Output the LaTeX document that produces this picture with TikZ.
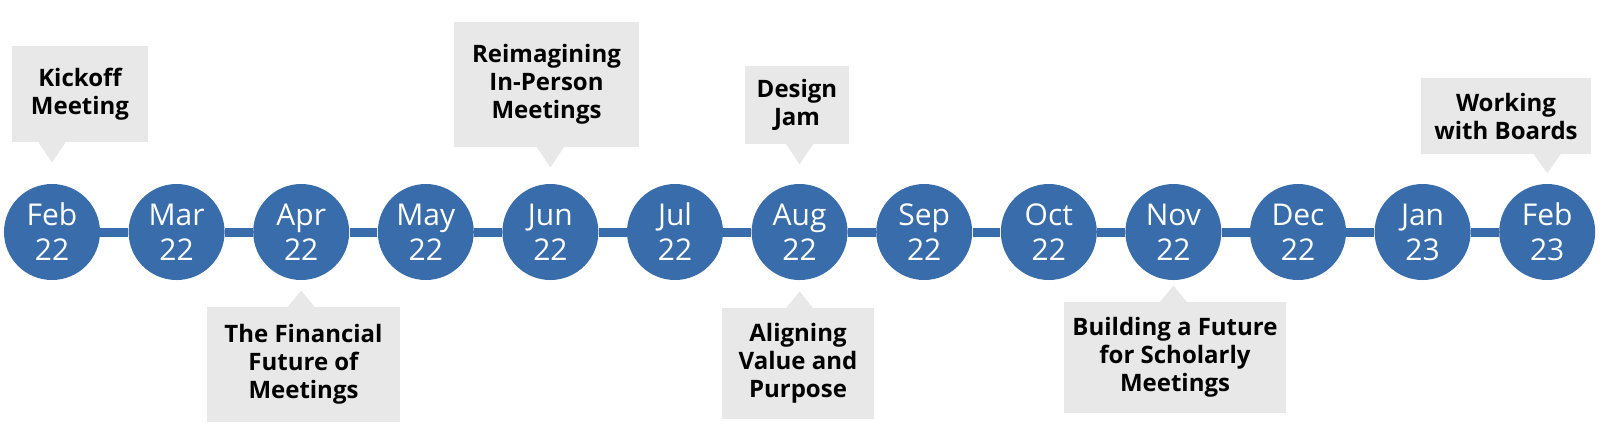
\documentclass[tikz,border=0pt]{standalone}
\usepackage{fontspec}
\setmainfont{Open Sans}
\definecolor{tlblue}{RGB}{56,108,170}
\definecolor{boxgray}{RGB}{232,232,232}
\tikzset{
  month/.style={circle,fill=tlblue,text=white,minimum size=48pt,inner sep=0pt,align=center,font=\fontsize{15}{17.5}\selectfont},
  event/.style={rectangle,fill=boxgray,inner sep=0pt,align=center,font=\fontsize{12}{14}\selectfont\bfseries},
  tline/.style={tlblue,line width=4.5pt}
}
\begin{document}
\begin{tikzpicture}[x=0.5pt,y=-0.5pt]
\useasboundingbox (0,0) rectangle (1602,436);
\node[month] (feb22) at (52,232) {Feb\\22};
\node[month] (mar22) at (176.6,232) {Mar\\22};
\node[month] (apr22) at (301.2,232) {Apr\\22};
\node[month] (may22) at (425.8,232) {May\\22};
\node[month] (jun22) at (550.4,232) {Jun\\22};
\node[month] (jul22) at (675,232) {Jul\\22};
\node[month] (aug22) at (799.6,232) {Aug\\22};
\node[month] (sep22) at (924.2,232) {Sep\\22};
\node[month] (oct22) at (1048.8,232) {Oct\\22};
\node[month] (nov22) at (1173.4,232) {Nov\\22};
\node[month] (dec22) at (1298,232) {Dec\\22};
\node[month] (jan23) at (1422.6,232) {Jan\\23};
\node[month] (feb23) at (1547.2,232) {Feb\\23};

\draw[tline] (feb22) -- (mar22) -- (apr22) -- (may22) -- (jun22) -- (jul22) -- (aug22)
  -- (sep22) -- (oct22) -- (nov22) -- (dec22) -- (jan23) -- (feb23);

\node[event,minimum width=68pt,minimum height=48pt] (kickoff) at (80,94) {Kickoff\\Meeting};
\node[event,minimum width=92.5pt,minimum height=62.5pt] (reimag) at (546.5,84.5) {Reimagining\\In-Person\\Meetings};
\node[event,minimum width=52pt,minimum height=39pt] (design) at (797,105) {Design\\Jam};
\node[event,minimum width=85pt,minimum height=38pt] (boards) at (1506,116) {Working\\with Boards};
\node[event,minimum width=96.5pt,minimum height=57.5pt] (financial) at (303.5,364.5) {The Financial\\Future of\\Meetings};
\node[event,minimum width=76pt,minimum height=55.5pt] (aligning) at (798,363.5) {Aligning\\Value and\\Purpose};
\node[event,minimum width=111pt,minimum height=55.5pt] (building) at (1175,357.5) {Building a Future\\for Scholarly\\Meetings};

\fill[boxgray] (kickoff.south -| feb22) ++(-14,-1) -- ++(14,21) -- ++(14,-21) -- cycle;
\fill[boxgray] (reimag.south -| jun22) ++(-14,-1) -- ++(14,21) -- ++(14,-21) -- cycle;
\fill[boxgray] (design.south -| aug22) ++(-14,-1) -- ++(14,21) -- ++(14,-21) -- cycle;
\fill[boxgray] (boards.south -| feb23) ++(-14,-1) -- ++(14,20) -- ++(14,-20) -- cycle;
\fill[boxgray] (financial.north -| apr22) ++(-14,1) -- ++(14,-17) -- ++(14,17) -- cycle;
\fill[boxgray] (aligning.north -| aug22) ++(-14,1) -- ++(14,-17) -- ++(14,17) -- cycle;
\fill[boxgray] (building.north -| nov22) ++(-14,1) -- ++(14,-17) -- ++(14,17) -- cycle;
\end{tikzpicture}
\end{document}
